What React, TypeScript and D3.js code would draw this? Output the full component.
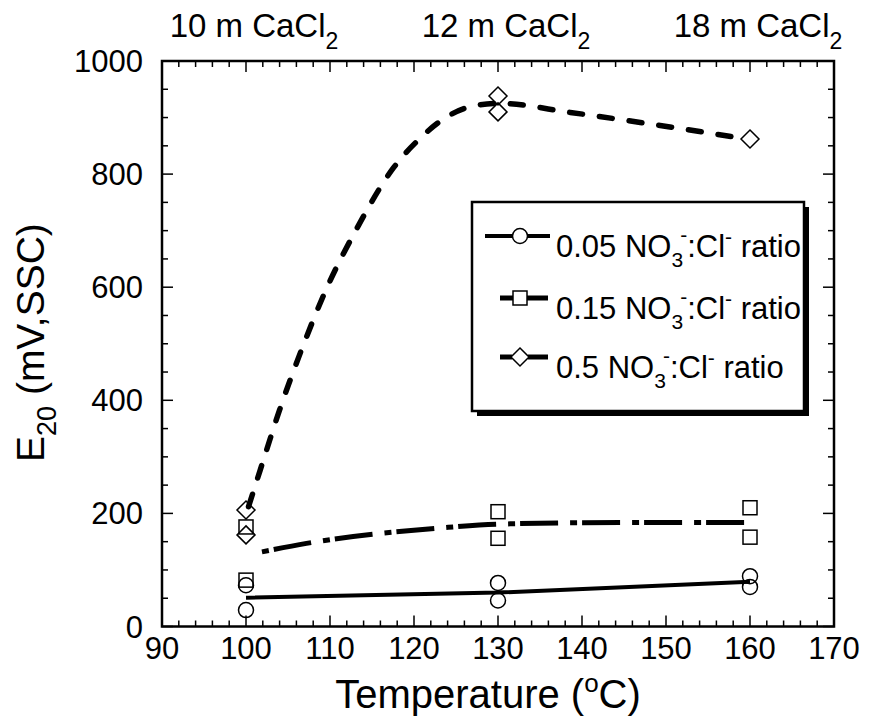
import React from "react";
import * as d3 from "d3";

const xTicks = [90, 100, 110, 120, 130, 140, 150, 160, 170];
const yTicks = [0, 200, 400, 600, 800, 1000];
const topLabels = [
  { t: 100, label: "10 m CaCl", sub: "2" },
  { t: 130, label: "12 m CaCl", sub: "2" },
  { t: 160, label: "18 m CaCl", sub: "2" },
];

// markers
const circleT = [100, 100, 130, 130, 160, 160];
const circleE = [29, 73, 77, 46, 89, 70];
const squareT = [100, 100, 130, 130, 160, 160];
const squareE = [82, 176, 203, 156, 210, 158];
const diamondT = [100, 100, 130, 130, 160];
const diamondE = [206, 162, 938, 910, 862];

// fitted curves
const fit005T = [100, 130, 160];
const fit005E = [51, 60, 79];
const fit015T = [101.9, 107.2, 123, 130, 145, 159.5];
const fit015E = [132, 147, 174, 181, 184, 184];
const fit05T = [100.3, 101.7, 104, 106.6, 109.6, 113.2, 117.5, 120.7, 124.1, 127.6, 130.2, 138.6, 149.3, 159.6];
const fit05E = [212, 277, 383, 489, 598, 704, 810, 863, 903, 922, 925, 909, 886, 862];

const legendLabels = ["0.05", "0.15", "0.5"];

const FONT = "'Liberation Sans', Arial, Helvetica, sans-serif";

export default function App() {
  const x = d3.scaleLinear().domain([90, 170]).range([162, 834]);
  const y = d3.scaleLinear().domain([0, 1000]).range([626.5, 61]);

  const xMinor = d3.range(90, 170.01, 2);
  const yMinor = d3.range(0, 1000.01, 50);

  const line = (ts: number[], es: number[], curve: d3.CurveFactory) =>
    d3
      .line<number>()
      .x((_, i) => x(ts[i]))
      .y((d) => y(d))
      .curve(curve)(es) || "";

  const diamond = (cx: number, cy: number, r: number) =>
    `M${cx},${cy - r}L${cx + r},${cy}L${cx},${cy + r}L${cx - r},${cy}Z`;

  const x0 = x(90), x1 = x(170), y0 = y(0), y1 = y(1000);

  const legX = 472, legY = 202, legW = 332, legH = 209;
  const rows = [236, 298, 357];

  return (
    <svg
      width={869}
      height={718}
      style={{ position: "absolute", left: 0, top: 0, background: "#fff" }}
      fontFamily={FONT}
    >
      <rect x={0} y={0} width={869} height={718} fill="#fff" />
      {/* ticks */}
      {xMinor.map((v) => {
        const major = v % 10 === 0;
        const L = major ? 11 : 6;
        return (
          <g key={"xt" + v} stroke="#000" strokeWidth={1.5}>
            <line x1={x(v)} x2={x(v)} y1={y0} y2={y0 - L} />
            <line x1={x(v)} x2={x(v)} y1={y1} y2={y1 + L} />
          </g>
        );
      })}
      {yMinor.map((v) => {
        const major = v % 200 === 0;
        const L = major ? 11 : 6;
        return (
          <g key={"yt" + v} stroke="#000" strokeWidth={1.5}>
            <line x1={x0} x2={x0 + L} y1={y(v)} y2={y(v)} />
            <line x1={x1} x2={x1 - L} y1={y(v)} y2={y(v)} />
          </g>
        );
      })}
      <rect x={x0} y={y1} width={x1 - x0} height={y0 - y1} fill="none" stroke="#000" strokeWidth={2.5} />

      {/* tick labels */}
      {xTicks.map((v) => (
        <text key={"xl" + v} x={x(v)} y={659} fontSize={31} textAnchor="middle">
          {v}
        </text>
      ))}
      {yTicks.map((v) => (
        <text key={"yl" + v} x={143} y={y(v) + 11} fontSize={31} textAnchor="end">
          {v}
        </text>
      ))}

      {/* top labels */}
      {topLabels.map((d) => (
        <text key={"tl" + d.t} x={x(d.t) + 8} y={37} fontSize={33} textAnchor="middle">
          {d.label}
          <tspan fontSize={23} dy={12}>{d.sub}</tspan>
        </text>
      ))}

      {/* axis titles */}
      <text x={488} y={708} fontSize={40} textAnchor="middle">
        Temperature (<tspan fontSize={26} dy={-16}>o</tspan>
        <tspan dy={16}>C)</tspan>
      </text>
      <text transform="translate(44,462) rotate(-90)" fontSize={39}>
        E<tspan fontSize={27} dy={12}>20</tspan>
        <tspan dy={-12}> (mV,SSC)</tspan>
      </text>

      {/* fitted curves */}
      <path d={line(fit005T, fit005E, d3.curveLinear)} fill="none" stroke="#000" strokeWidth={4} />
      <path
        d={line(fit015T, fit015E, d3.curveMonotoneX)}
        fill="none"
        stroke="#000"
        strokeWidth={5}
        strokeDasharray="7 5 38 12"
      />
      <path
        d={line(fit05T, fit05E, d3.curveMonotoneX)}
        fill="none"
        stroke="#000"
        strokeWidth={5.5}
        strokeLinecap="round"
        strokeDasharray="13 17"
      />

      {/* markers */}
      {circleE.map((e, i) => (
        <circle key={"c" + i} cx={x(circleT[i])} cy={y(e)} r={7.5} fill="none" stroke="#000" strokeWidth={1.5} />
      ))}
      {squareE.map((e, i) => (
        <rect key={"s" + i} x={x(squareT[i]) - 7} y={y(e) - 7} width={14} height={14} fill="none" stroke="#000" strokeWidth={1.5} />
      ))}
      {diamondE.map((e, i) => (
        <path key={"d" + i} d={diamond(x(diamondT[i]), y(e), 9)} fill="none" stroke="#000" strokeWidth={1.5} />
      ))}

      {/* legend */}
      <rect x={legX + 5} y={legY + 5} width={legW} height={legH} fill="#000" />
      <rect x={legX} y={legY} width={legW} height={legH} fill="#fff" stroke="#000" strokeWidth={2.5} />
      <line x1={485} x2={550} y1={rows[0]} y2={rows[0]} stroke="#000" strokeWidth={4} />
      <circle cx={520} cy={rows[0]} r={7.5} fill="#fff" stroke="#000" strokeWidth={1.5} />
      <line x1={500} x2={548} y1={rows[1]} y2={rows[1]} stroke="#000" strokeWidth={5} />
      <rect x={513} y={rows[1] - 7} width={14} height={14} fill="#fff" stroke="#000" strokeWidth={1.5} />
      <line x1={500} x2={512} y1={rows[2]} y2={rows[2]} stroke="#000" strokeWidth={5} />
      <line x1={528} x2={548} y1={rows[2]} y2={rows[2]} stroke="#000" strokeWidth={5} />
      <path d={diamond(520, rows[2], 9)} fill="#fff" stroke="#000" strokeWidth={1.5} />
      {legendLabels.map((l, i) => (
        <text key={"lg" + i} x={556} y={rows[i] + 21} fontSize={31}>
          {l} NO<tspan fontSize={21} dy={10}>3</tspan>
          <tspan fontSize={21} dx={-3} dy={-25}>-</tspan>
          <tspan dy={15}>:Cl</tspan>
          <tspan fontSize={21} dy={-13}>-</tspan>
          <tspan dy={13}> ratio</tspan>
        </text>
      ))}
    </svg>
  );
}
